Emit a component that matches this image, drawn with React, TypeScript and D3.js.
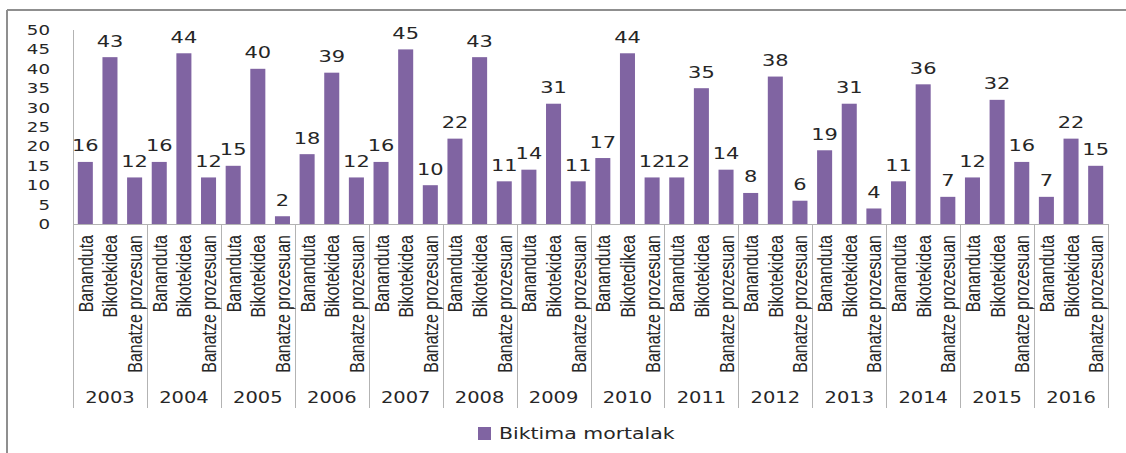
import React from "react";
import * as d3 from "d3";

const years = ["2003","2004","2005","2006","2007","2008","2009","2010","2011","2012","2013","2014","2015","2016"];
const subLabels = [
  ["Bananduta","Bikotekidea","Banatze prozesuan"],
  ["Bananduta","Bikotekidea","Banatze prozesuan"],
  ["Bananduta","Bikotekidea","Banatze prozesuan"],
  ["Bananduta","Bikotekidea","Banatze prozesuan"],
  ["Bananduta","Bikotekidea","Banatze prozesuan"],
  ["Bananduta","Bikotekidea","Banatze prozesuan"],
  ["Bananduta","Bikotekidea","Banatze prozesuan"],
  ["Bananduta","Bikotedikea","Banatze prozesuan"],
  ["Bananduta","Bikotekidea","Banatze prozesuan"],
  ["Bananduta","Bikotekidea","Banatze prozesuan"],
  ["Bananduta","Bikotekidea","Banatze prozesuan"],
  ["Bananduta","Bikotekidea","Banatze prozesuan"],
  ["Bananduta","Bikotekidea","Banatze prozesuan"],
  ["Bananduta","Bikotekidea","Banatze prozesuan"],
];
const bananduta = [16,16,15,18,16,22,14,17,12,8,19,11,12,7];
const bikotekidea = [43,44,40,39,45,43,31,44,35,38,31,36,32,22];
const banatze = [12,12,2,12,10,11,11,12,14,6,4,7,16,15];
const yTicks = [0,5,10,15,20,25,30,35,40,45,50];
const seriesName = "Biktima mortalak";

const BAR = "#8064a2";
const AXIS = "#b3b3b3";
const TXT = "#262626";
const NUM_FONT = "DejaVu Sans";
const CAT_FONT = "Liberation Sans";

type Item = { key: string; year: string; label: string; value: number };

export default function App() {
  const items: Item[] = [];
  years.forEach((y, i) => {
    const vals = [bananduta[i], bikotekidea[i], banatze[i]];
    subLabels[i].forEach((l, j) => items.push({ key: `${y}-${j}`, year: y, label: l, value: vals[j] }));
  });

  const left = 73, right = 1108, base = 224, top = 30;
  const x = d3.scaleBand<string>().domain(items.map(d => d.key)).range([left, right]).paddingInner(0.39).paddingOuter(0.195);
  const y = d3.scaleLinear().domain([0, 50]).range([base, top]);
  const step = x.step();
  const groupW = step * 3;
  const sepBottom = 408;

  return (
    <svg width={1126} height={453} style={{ position: "absolute", left: 0, top: 0, background: "#fff" }}>
      {/* frame */}
      <line x1={7} y1={10} x2={1126} y2={10} stroke="#8f8f8f" strokeWidth={2} />
      <line x1={7} y1={10} x2={7} y2={453} stroke="#8f8f8f" strokeWidth={2} />

      {/* y axis */}
      <line x1={left + 0.5} y1={top} x2={left + 0.5} y2={base} stroke={AXIS} />
      {yTicks.map(t => (
        <text key={t} transform={`translate(50,${y(t) + 5}) scale(1.3,1)`} textAnchor="end" fontFamily={NUM_FONT} fontSize={14} fill={TXT}>{t}</text>
      ))}

      {/* x axis baseline */}
      <line x1={left} y1={base + 0.5} x2={right} y2={base + 0.5} stroke={AXIS} />

      {/* group separators */}
      {d3.range(years.length + 1).map(i => {
        const sx = Math.round(left + i * groupW) + 0.5;
        return (
          <g key={i}>
            <line x1={sx} y1={base} x2={sx} y2={sepBottom} stroke={AXIS} />
            {i > 0 && <line x1={sx - 5} y1={308.5} x2={sx} y2={308.5} stroke="#555" />}
          </g>
        );
      })}

      {/* bars */}
      {items.map(d => (
        <rect key={d.key} x={x(d.key)!} y={y(d.value)} width={x.bandwidth()} height={base - y(d.value)} fill={BAR} />
      ))}

      {/* data labels */}
      {items.map(d => (
        <text key={"v" + d.key} transform={`translate(${x(d.key)! + x.bandwidth() / 2},${y(d.value) - 10.5}) scale(1.27,1)`} textAnchor="middle" fontFamily={NUM_FONT} fontSize={16.5} fill={TXT}>{d.value}</text>
      ))}

      {/* category labels (rotated) */}
      {items.map(d => (
        <text key={"c" + d.key} transform={`translate(${x(d.key)! + x.bandwidth() / 2 + 7.5},235) rotate(-90) scale(1,1.27)`} textAnchor="end" fontFamily={CAT_FONT} fontSize={16} fill={TXT}>{d.label}</text>
      ))}

      {/* year labels */}
      {years.map((yr, i) => (
        <text key={yr} transform={`translate(${left + i * groupW + groupW / 2},402.5) scale(1.18,1)`} textAnchor="middle" fontFamily={NUM_FONT} fontSize={16.5} fill={TXT}>{yr}</text>
      ))}

      {/* legend */}
      <rect x={478} y={427} width={13} height={13} fill={BAR} />
      <text transform={`translate(499,439) scale(1.24,1)`} fontFamily={NUM_FONT} fontSize={16.5} fill={TXT}>{seriesName}</text>
    </svg>
  );
}
